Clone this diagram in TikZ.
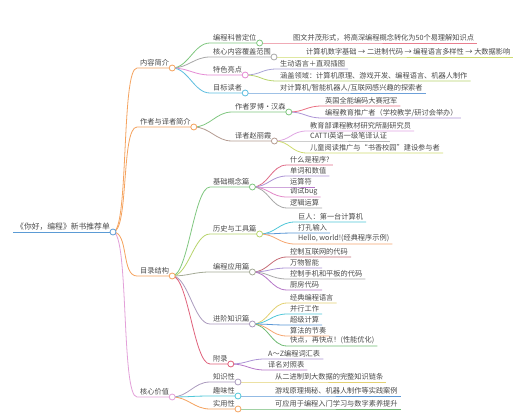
\documentclass[tikz,border=0pt]{standalone}
\usepackage{fontspec}
\setmainfont{Noto Sans CJK SC}
\definecolor{mmtext}{HTML}{4A4A4A}
\definecolor{mmblue}{HTML}{5B9BD5}
\definecolor{mmorange}{HTML}{F5A35F}
\definecolor{mmpink}{HTML}{E3A1D9}
\definecolor{mmgreen}{HTML}{80C780}
\definecolor{mmgrey}{HTML}{A8A8A8}
\definecolor{mmmagenta}{HTML}{E58AD4}
\definecolor{mmcyan}{HTML}{5EBEE0}
\definecolor{mmred}{HTML}{E97F8F}
\definecolor{mmchartreuse}{HTML}{CFDC70}
\definecolor{mmlavender}{HTML}{A9A4D6}
\definecolor{mmlime}{HTML}{B8D46C}
\definecolor{mmazure}{HTML}{6DA0D9}
\definecolor{mmscarlet}{HTML}{EB6F82}
\definecolor{mmpurple}{HTML}{AD94D6}
\definecolor{mmorchid}{HTML}{E0A6E3}
\definecolor{mmsilver}{HTML}{B5B5B5}
\definecolor{mmbrown}{HTML}{B59C92}
\definecolor{mmolive}{HTML}{A5AB98}
\definecolor{mmlilac}{HTML}{AB9BBE}
\definecolor{mmrose}{HTML}{E0627C}
\definecolor{mmcrimson}{HTML}{E06D88}
\definecolor{mmviolet}{HTML}{B677C8}
\definecolor{mmhotpink}{HTML}{E287C7}
\definecolor{mmteal}{HTML}{50C7D9}
\definecolor{mmsky}{HTML}{5A97D6}
\definecolor{mmpeach}{HTML}{F6A670}
\definecolor{mmbrick}{HTML}{C66C76}
\definecolor{mmgold}{HTML}{E3D172}
\definecolor{mmleaf}{HTML}{70BB74}
\tikzset{
  topic/.style={anchor=south west, inner xsep=3pt, inner ysep=1.4pt,
                text=mmtext, font=\fontsize{7.2}{8.6}\selectfont},
  headline/.style={topic, font=\fontsize{7.8}{9.4}\selectfont},
  link/.style={draw=#1, line width=0.8pt,
               to path={.. controls +(16,0) and +(-16,0) .. (\tikztotarget)}},
  knob/.style={circle, draw=#1, fill=white, line width=0.8pt,
               minimum size=6pt, inner sep=0pt},
}

\begin{document}
\begin{tikzpicture}[x=1pt, y=-1pt]

  \useasboundingbox[fill=white] (0,0) rectangle (520,420);

  % =====================================================
  % ROOT AND MAIN BRANCHES
  % =====================================================

  \node[headline] (root) at (13,232) {《你好，编程》新书推荐单};

  \node[topic] (intro)  at (137,68)  {内容简介};
  \node[topic] (author) at (137,127) {作者与译者简介};
  \node[topic] (toc)    at (137,276) {目录结构};
  \node[topic] (value)  at (137,397) {核心价值};

  % =====================================================
  % CONTENT INTRODUCTION
  % =====================================================

  \node[topic] (sci)   at (210,43) {编程科普定位};
  \node[topic] (cover) at (210,57) {核心内容覆盖范围};
  \node[topic] (feat)  at (210,75) {特色亮点};
  \node[topic] (aud)   at (210,93) {目标读者};

  \node[topic] (sciA)   at (290,43) {图文并茂形式，将高深编程概念转化为50个易理解知识点};
  \node[topic] (coverA) at (303,57) {计算机数字基础 → 二进制代码 → 编程语言多样性 → 大数据影响};
  \node[topic] (featA)  at (277,69) {生动语言＋直观插图};
  \node[topic] (featB)  at (277,81) {涵盖领域：计算机原理、游戏开发、编程语言、机器人制作};
  \node[topic] (audA)   at (277,93) {对计算机/智能机器人/互联网感兴趣的探索者};

  % =====================================================
  % AUTHOR AND TRANSLATOR
  % =====================================================

  \node[topic] (writer) at (232,112) {作者罗博・汉森};
  \node[topic] (trans)  at (232,141) {译者赵丽霞};

  \node[topic] (writerA) at (322,106) {英国全能编码大赛冠军};
  \node[topic] (writerB) at (322,118) {编程教育推广者（学校教学/研讨会举办）};
  \node[topic] (transA)  at (307,131) {教育部课程教材研究所副研究员};
  \node[topic] (transB)  at (307,141) {CATTI英语一级笔译认证};
  \node[topic] (transC)  at (307,153) {儿童阅读推广与“书香校园”建设参与者};

  % =====================================================
  % TABLE OF CONTENTS
  % =====================================================

  \node[topic] (basic) at (210,187) {基础概念篇};
  \node[topic] (hist)  at (210,234) {历史与工具篇};
  \node[topic] (app)   at (210,272) {编程应用篇};
  \node[topic] (adv)   at (210,324) {进阶知识篇};
  \node[topic] (appx)  at (210,364) {附录};

  \node[topic] (basicA) at (287,165) {什么是程序?};
  \node[topic] (basicB) at (287,176) {单词和数值};
  \node[topic] (basicC) at (287,187) {运算符};
  \node[topic] (basicD) at (287,197) {调试bug};
  \node[topic] (basicE) at (287,208) {逻辑运算};

  \node[topic] (histA) at (295,222) {巨人：第一台计算机};
  \node[topic] (histB) at (295,233) {打孔输入};
  \node[topic] (histC) at (295,244) {Hello, world!(经典程序示例)};

  \node[topic] (appA) at (287,257) {控制互联网的代码};
  \node[topic] (appB) at (287,268) {万物智能};
  \node[topic] (appC) at (287,279) {控制手机和平板的代码};
  \node[topic] (appD) at (287,290) {厨房代码};

  \node[topic] (advA) at (287,303) {经典编程语言};
  \node[topic] (advB) at (287,314) {并行工作};
  \node[topic] (advC) at (287,325) {超级计算};
  \node[topic] (advD) at (287,336) {算法的节奏};
  \node[topic] (advE) at (287,346) {快点，再快点！(性能优化)};

  \node[topic] (appxA) at (265,359) {A～Z编程词汇表};
  \node[topic] (appxB) at (265,370) {译名对照表};

  % =====================================================
  % CORE VALUE
  % =====================================================

  \node[topic] (know) at (210,382) {知识性};
  \node[topic] (fun)  at (210,396) {趣味性};
  \node[topic] (use)  at (210,409) {实用性};

  \node[topic] (knowA) at (272,382) {从二进制到大数据的完整知识链条};
  \node[topic] (funA)  at (272,396) {游戏原理揭秘、机器人制作等实践案例};
  \node[topic] (useA)  at (272,409) {可应用于编程入门学习与数字素养提升};

  % =====================================================
  % BRANCH LINES
  % =====================================================

  \draw[mmblue, line width=0.8pt] (root.south west) -- (root.south east);

  \draw[link=mmorange] (root.south east) to (intro.south west) -- (intro.south east);
  \draw[link=mmorange] (root.south east) to (author.south west) -- (author.south east);
  \draw[link=mmorange] (root.south east) to (toc.south west) -- (toc.south east);
  \draw[link=mmpink]   (root.south east) to (value.south west) -- (value.south east);

  \draw[link=mmgreen]   (intro.south east) to (sci.south west) -- (sci.south east);
  \draw[link=mmgrey]    (intro.south east) to (cover.south west) -- (cover.south east);
  \draw[link=mmmagenta] (intro.south east) to (feat.south west) -- (feat.south east);
  \draw[link=mmcyan]    (intro.south east) to (aud.south west) -- (aud.south east);

  \draw[link=mmred]        (sci.south east) to (sciA.south west) -- (sciA.south east);
  \draw[link=mmchartreuse] (cover.south east) to (coverA.south west) -- (coverA.south east);
  \draw[link=mmlavender]   (feat.south east) to (featA.south west) -- (featA.south east);
  \draw[link=mmlime]       (feat.south east) to (featB.south west) -- (featB.south east);
  \draw[link=mmazure]      (aud.south east) to (audA.south west) -- (audA.south east);

  \draw[link=mmgreen] (author.south east) to (writer.south west) -- (writer.south east);
  \draw[link=mmbrown] (author.south east) to (trans.south west) -- (trans.south east);

  \draw[link=mmscarlet]    (writer.south east) to (writerA.south west) -- (writerA.south east);
  \draw[link=mmpurple]     (writer.south east) to (writerB.south west) -- (writerB.south east);
  \draw[link=mmorchid]     (trans.south east) to (transA.south west) -- (transA.south east);
  \draw[link=mmsilver]     (trans.south east) to (transB.south west) -- (transB.south east);
  \draw[link=mmchartreuse] (trans.south east) to (transC.south west) -- (transC.south east);

  \draw[link=mmgreen]  (toc.south east) to (basic.south west) -- (basic.south east);
  \draw[link=mmlime]   (toc.south east) to (hist.south west) -- (hist.south east);
  \draw[link=mmolive]  (toc.south east) to (app.south west) -- (app.south east);
  \draw[link=mmlilac]  (toc.south east) to (adv.south west) -- (adv.south east);
  \draw[link=mmrose]   (toc.south east) to (appx.south west) -- (appx.south east);

  \draw[link=mmcrimson] (basic.south east) to (basicA.south west) -- (basicA.south east);
  \draw[link=mmpurple]  (basic.south east) to (basicB.south west) -- (basicB.south east);
  \draw[link=mmviolet]  (basic.south east) to (basicC.south west) -- (basicC.south east);
  \draw[link=mmhotpink] (basic.south east) to (basicD.south west) -- (basicD.south east);
  \draw[link=mmgrey]    (basic.south east) to (basicE.south west) -- (basicE.south east);

  \draw[link=mmteal]  (hist.south east) to (histA.south west) -- (histA.south east);
  \draw[link=mmsky]   (hist.south east) to (histB.south west) -- (histB.south east);
  \draw[link=mmpeach] (hist.south east) to (histC.south west) -- (histC.south east);

  \draw[link=mmbrick]  (app.south east) to (appA.south west) -- (appA.south east);
  \draw[link=mmpurple] (app.south east) to (appB.south west) -- (appB.south east);
  \draw[link=mmgrey]   (app.south east) to (appC.south west) -- (appC.south east);
  \draw[link=mmviolet] (app.south east) to (appD.south west) -- (appD.south east);

  \draw[link=mmgold]   (adv.south east) to (advA.south west) -- (advA.south east);
  \draw[link=mmteal]   (adv.south east) to (advB.south west) -- (advB.south east);
  \draw[link=mmsky]    (adv.south east) to (advC.south west) -- (advC.south east);
  \draw[link=mmpeach]  (adv.south east) to (advD.south west) -- (advD.south east);
  \draw[link=mmleaf]   (adv.south east) to (advE.south west) -- (advE.south east);

  \draw[link=mmpurple] (appx.south east) to (appxA.south west) -- (appxA.south east);
  \draw[link=mmviolet] (appx.south east) to (appxB.south west) -- (appxB.south east);

  \draw[link=mmlilac]  (value.south east) to (know.south west) -- (know.south east);
  \draw[link=mmteal]   (value.south east) to (fun.south west) -- (fun.south east);
  \draw[link=mmorange] (value.south east) to (use.south west) -- (use.south east);

  \draw[link=mmgold] (know.south east) to (knowA.south west) -- (knowA.south east);
  \draw[link=mmsky]  (fun.south east) to (funA.south west) -- (funA.south east);
  \draw[link=mmleaf] (use.south east) to (useA.south west) -- (useA.south east);

  % =====================================================
  % BRANCH KNOBS
  % =====================================================

  \foreach \n/\c in {root/mmblue, intro/mmorange, author/mmorange, toc/mmorange,
                     value/mmpink, sci/mmgreen, cover/mmgrey, feat/mmmagenta,
                     aud/mmcyan, writer/mmgreen, trans/mmbrown, basic/mmgreen,
                     hist/mmlime, app/mmolive, adv/mmlilac, appx/mmrose,
                     know/mmlilac, fun/mmteal, use/mmorange}
    \node[knob=\c] at (\n.south east) {};

\end{tikzpicture}
\end{document}
